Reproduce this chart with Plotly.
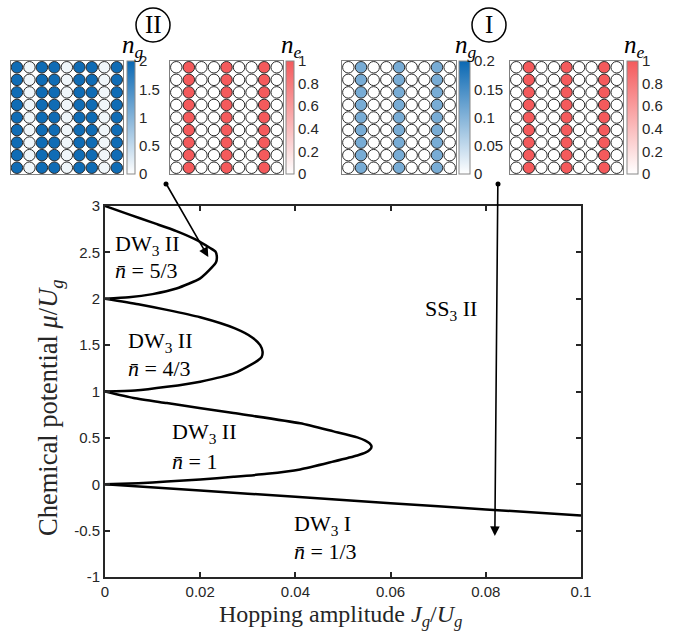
import numpy as np
import plotly.graph_objects as go

W, H = 680, 631

# ---------------- data ----------------
# lobe DW3 II, n=5/3 (from mu=3 through tip back to mu=2)
lobe53_J = [0, 0.005, 0.010, 0.015, 0.019, 0.022, 0.0232, 0.0235, 0.0233, 0.0225, 0.020, 0.015, 0.010, 0.005, 0]
lobe53_mu = [3, 2.91, 2.82, 2.73, 2.64, 2.55, 2.51, 2.45, 2.39, 2.34, 2.22, 2.11, 2.05, 2.015, 2]
# lobe DW3 II, n=4/3
lobe43_J = [0, 0.007, 0.013, 0.020, 0.0273, 0.031, 0.0326, 0.0331, 0.0329, 0.032, 0.0273, 0.020, 0.013, 0.0063, 0]
lobe43_mu = [2, 1.94, 1.88, 1.80, 1.68, 1.58, 1.50, 1.43, 1.37, 1.33, 1.20, 1.106, 1.05, 1.01, 1.0]
# lobe DW3 II, n=1
lobe1_J = [0, 0.006, 0.013, 0.027, 0.041, 0.048, 0.053, 0.0547, 0.0556, 0.056,
           0.0556, 0.0547, 0.053, 0.048, 0.041, 0.034, 0.027, 0.020, 0.013, 0.007, 0]
lobe1_mu = [1, 0.93, 0.875, 0.767, 0.657, 0.57, 0.505, 0.47, 0.44, 0.405,
            0.37, 0.34, 0.31, 0.245, 0.16, 0.112, 0.08, 0.052, 0.029, 0.012, 0]
# lower boundary DW3 I / SS3 II
low_J = [0, 0.02, 0.04, 0.06, 0.08, 0.1]
low_mu = [0, -0.068, -0.136, -0.204, -0.271, -0.338]

x_ticks = [0, 0.02, 0.04, 0.06, 0.08, 0.1]
x_ticklabels = ["0", "0.02", "0.04", "0.06", "0.08", "0.1"]
y_ticks = [-1, -0.5, 0, 0.5, 1, 1.5, 2, 2.5, 3]
y_ticklabels = ["-1", "-0.5", "0", "0.5", "1", "1.5", "2", "2.5", "3"]

# inset lattices (9x9); every row identical -> column profiles
ng_II_cols = [1.95, 0.12, 1.95, 1.95, 0.12, 1.95, 1.95, 0.12, 1.95]
ne_II_cols = [0, 1, 0, 0, 1, 0, 0, 1, 0]
ng_I_cols = [0, 0.11, 0, 0, 0.11, 0, 0, 0.11, 0]
ne_I_cols = [0, 1, 0, 0, 1, 0, 0, 1, 0]
n_rows = 9

cb_ng_II = [0, 0.5, 1, 1.5, 2]
cb_ng_II_labels = ["0", "0.5", "1", "1.5", "2"]
cb_ne = [0, 0.2, 0.4, 0.6, 0.8, 1]
cb_ne_labels = ["0", "0.2", "0.4", "0.6", "0.8", "1"]
cb_ng_I = [0, 0.05, 0.1, 0.15, 0.2]
cb_ng_I_labels = ["0", "0.05", "0.1", "0.15", "0.2"]

# arrow tips (data coords of main axes)
arrow_II_tip = (0.0217, 2.45)
arrow_I_tip = (0.0819, -0.558)

# ---------------- helpers ----------------
def fx(px):
    return px / W

def fy(py):
    return 1 - py / H

AX = "#262626"
BLUE = "#0a68b3"
RED = "#f45a5c"
blue_scale = [[0, "#ffffff"], [1, BLUE]]
red_scale = [[0, "#ffffff"], [1, RED]]
SERIF = "Liberation Serif"
SANS = "Liberation Sans"

fig = go.Figure()

for xs, ys in [(lobe53_J, lobe53_mu), (lobe43_J, lobe43_mu), (lobe1_J, lobe1_mu), (low_J, low_mu)]:
    fig.add_trace(go.Scatter(x=xs, y=ys, mode="lines",
                             line=dict(color="black", width=2.5, shape="spline", smoothing=0.6),
                             showlegend=False, hoverinfo="skip", xaxis="x", yaxis="y"))

# insets
panels = [
    (ng_II_cols, 2, blue_scale, (10.7, 123, 61, 174), (127, 7.5), cb_ng_II, cb_ng_II_labels, "g"),
    (ne_II_cols, 1, red_scale, (170, 283, 61, 174), (286, 7.5), cb_ne, cb_ne_labels, "e"),
    (ng_I_cols, 0.2, blue_scale, (342, 456, 61, 174), (459, 10.5), cb_ng_I, cb_ng_I_labels, "g"),
    (ne_I_cols, 1, red_scale, (510, 623, 61, 174), (627, 10.5), cb_ne, cb_ne_labels, "e"),
]

layout_axes = {}
for i, (cols, cmax, cscale, box, cb, tv, tt, sub) in enumerate(panels):
    k = i + 2
    xs, ys, vals = [], [], []
    for r in range(n_rows):
        for c in range(len(cols)):
            xs.append(c + 1)
            ys.append(n_rows - r)
            vals.append(cols[c])
    fig.add_trace(go.Scatter(
        x=xs, y=ys, mode="markers", xaxis=f"x{k}", yaxis=f"y{k}", showlegend=False, hoverinfo="skip",
        marker=dict(size=11.5, color=vals, cmin=0, cmax=cmax, colorscale=cscale,
                    line=dict(color="#2a2a2a", width=1),
                    showscale=True,
                    colorbar=dict(x=fx(cb[0]), xanchor="left", xref="paper",
                                  y=fy(box[2]), yanchor="top", yref="paper",
                                  len=(box[3] - box[2]) / H, lenmode="fraction",
                                  thickness=cb[1], thicknessmode="pixels",
                                  xpad=0, ypad=0, outlinewidth=1, outlinecolor="#888888",
                                  tickvals=tv, ticktext=tt, ticks="",
                                  tickfont=dict(family=SANS, size=15, color=AX)))))
    x0, x1, y0, y1 = box
    layout_axes[f"xaxis{k}"] = dict(domain=[fx(x0), fx(x1)], range=[0.5, len(cols) + 0.5],
                                    showgrid=False, zeroline=False, showticklabels=False, ticks="",
                                    showline=True, mirror=True, linecolor="#808080", linewidth=1,
                                    anchor=f"y{k}", fixedrange=True)
    layout_axes[f"yaxis{k}"] = dict(domain=[fy(y1), fy(y0)], range=[0.5, n_rows + 0.5],
                                    showgrid=False, zeroline=False, showticklabels=False, ticks="",
                                    showline=True, mirror=True, linecolor="#808080", linewidth=1,
                                    anchor=f"x{k}", fixedrange=True)
    fig.add_annotation(x=fx(cb[0] + cb[1] / 2 + 2), y=fy(46), xref="paper", yref="paper",
                       xanchor="center", yanchor="middle",
                       text=f"<i>n</i><sub><i>{sub}</i></sub>", showarrow=False,
                       font=dict(family=SERIF, size=25, color="black"))

# main axes
fig.update_layout(
    width=W, height=H, margin=dict(l=0, r=0, t=0, b=0),
    paper_bgcolor="white", plot_bgcolor="white", template="none",
    xaxis=dict(domain=[fx(105), fx(581)], range=[0, 0.1], tickvals=x_ticks, ticktext=x_ticklabels,
               ticks="inside", ticklen=5, tickwidth=1.5, tickcolor=AX, mirror="ticks",
               showline=True, linecolor=AX, linewidth=2, showgrid=False, zeroline=False,
               tickfont=dict(family=SANS, size=15, color=AX), anchor="y"),
    yaxis=dict(domain=[fy(577), fy(206)], range=[-1, 3], tickvals=y_ticks, ticktext=y_ticklabels,
               ticks="inside", ticklen=5, tickwidth=1.5, tickcolor=AX, mirror="ticks",
               showline=True, linecolor=AX, linewidth=2, showgrid=False, zeroline=False,
               tickfont=dict(family=SANS, size=15, color=AX), anchor="x"),
    **layout_axes,
)

# axis titles
fig.add_annotation(x=fx(340), y=fy(616), xref="paper", yref="paper", showarrow=False,
                   xanchor="center", yanchor="middle",
                   text="Hopping amplitude <i>J</i><sub><i>g</i></sub>/<i>U</i><sub><i>g</i></sub>",
                   font=dict(family=SERIF, size=24, color=AX))
fig.add_annotation(x=fx(50), y=fy(408), xref="paper", yref="paper", showarrow=False, textangle=-90,
                   xanchor="center", yanchor="middle",
                   text="Chemical potential <i>μ</i>/<i>U</i><sub><i>g</i></sub>",
                   font=dict(family=SERIF, size=26.5, color=AX))

# phase labels
lab_font = dict(family=SERIF, size=22, color="black")
phase_labels = [
    (0.0017, 2.58, "DW<sub>3</sub> II"), (0.0017, 2.30, "<i>n̄</i> = 5/3"),
    (0.0044, 1.534, "DW<sub>3</sub> II"), (0.0044, 1.253, "<i>n̄</i> = 4/3"),
    (0.0137, 0.553, "DW<sub>3</sub> II"), (0.0137, 0.24, "<i>n̄</i> = 1"),
    (0.0668, 1.879, "SS<sub>3</sub> II"),
    (0.0393, -0.44, "DW<sub>3</sub> I"), (0.0393, -0.73, "<i>n̄</i> = 1/3"),
]
for lx, ly, lt in phase_labels:
    fig.add_annotation(x=lx, y=ly, xref="x", yref="y", text=lt, showarrow=False,
                       xanchor="left", yanchor="middle", font=lab_font)

# arrows with dot at tail
for tip, tail_px, tip_px in [(arrow_II_tip, (166, 184), (208, 257)), (arrow_I_tip, (498, 184), (495, 536))]:
    fig.add_annotation(x=tip[0], y=tip[1], xref="x", yref="y", text="", showarrow=True,
                       ax=tail_px[0] - tip_px[0], ay=tail_px[1] - tip_px[1],
                       arrowhead=2, arrowsize=1.2, arrowwidth=1.6, arrowcolor="black", standoff=0)
    fig.add_shape(type="circle", xref="paper", yref="paper",
                  x0=fx(tail_px[0] - 2.5), x1=fx(tail_px[0] + 2.5),
                  y0=fy(tail_px[1] + 2.5), y1=fy(tail_px[1] - 2.5),
                  fillcolor="black", line=dict(color="black", width=0))

# circled roman numerals
for cx, txt in [(153, "II"), (489, "I")]:
    fig.add_shape(type="circle", xref="paper", yref="paper",
                  x0=fx(cx - 17), x1=fx(cx + 17), y0=fy(25 + 17), y1=fy(25 - 17),
                  line=dict(color="black", width=1.5))
    fig.add_annotation(x=fx(cx), y=fy(25), xref="paper", yref="paper", text=txt, showarrow=False,
                       xanchor="center", yanchor="middle",
                       font=dict(family=SERIF, size=25, color="black"))

fig.write_html("out.html", post_script="document.body.style.margin='0px';",
               config={"displayModeBar": False})
